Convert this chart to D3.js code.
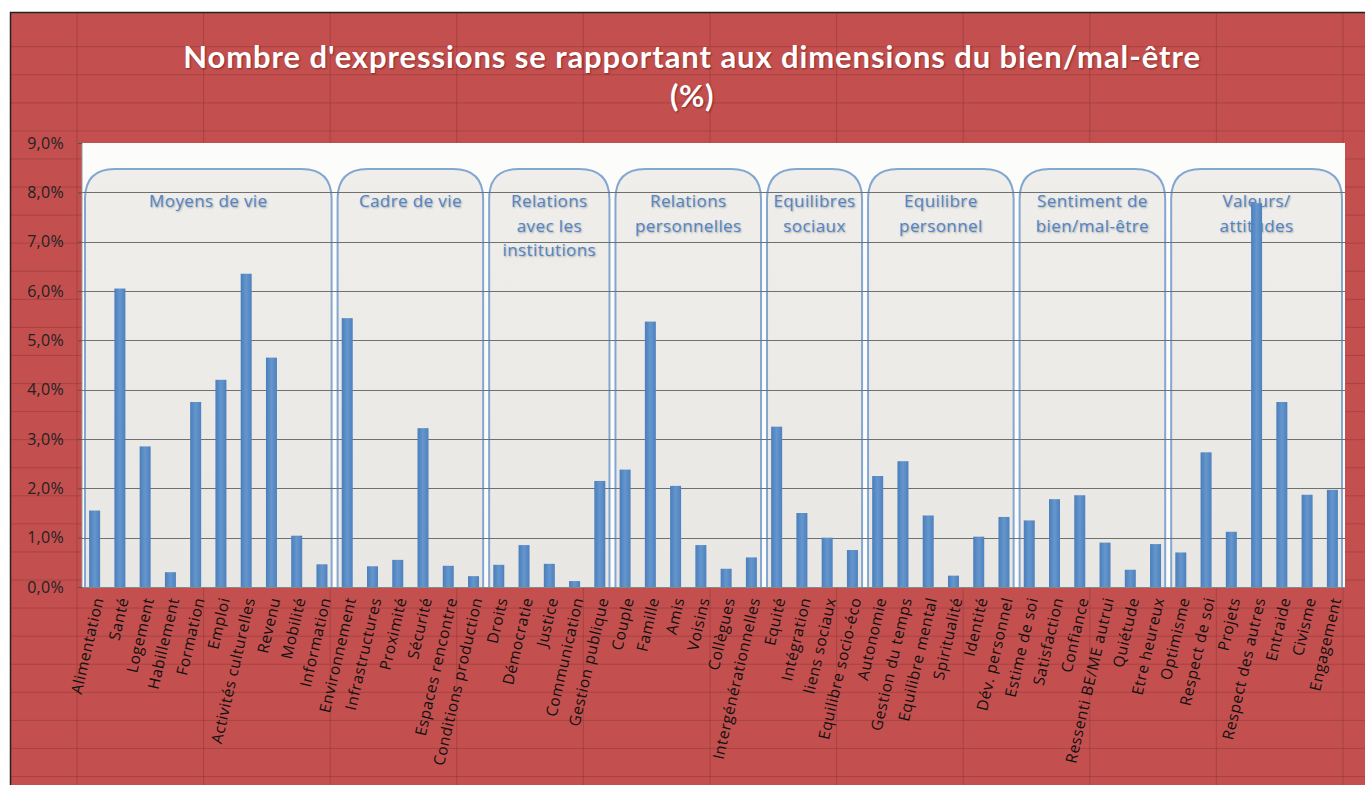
<!DOCTYPE html>
<html>
<head>
<meta charset="utf-8">
<style>
  body { margin: 0; background: #fff; }
  svg { display: block; }
</style>
</head>
<body>
<svg width="1365" height="785"></svg>
<script src="https://cdn.jsdelivr.net/npm/d3@7"></script>
<script>
var categories = ["Alimentation", "Santé", "Logement", "Habillement", "Formation", "Emploi",
  "Activités culturelles", "Revenu", "Mobilité", "Information",
  "Environnement", "Infrastructures", "Proximité", "Sécurité", "Espaces rencontre", "Conditions production",
  "Droits", "Démocratie", "Justice", "Communication", "Gestion publique",
  "Couple", "Famille", "Amis", "Voisins", "Collègues", "Intergénérationnelles",
  "Equité", "Intégration", "liens sociaux", "Equilibre socio-éco",
  "Autonomie", "Gestion du temps", "Equilibre mental", "Spiritualité", "Identité", "Dév. personnel",
  "Estime de soi", "Satisfaction", "Confiance", "Ressenti BE/ME autrui", "Quiétude", "Etre heureux",
  "Optimisme", "Respect de soi", "Projets", "Respect des autres", "Entraide", "Civisme", "Engagement"];

var values = [1.55, 6.05, 2.85, 0.3, 3.75, 4.2, 6.35, 4.65, 1.04, 0.46,
  5.45, 0.42, 0.55, 3.22, 0.43, 0.22,
  0.45, 0.85, 0.47, 0.12, 2.15,
  2.38, 5.38, 2.05, 0.85, 0.37, 0.6,
  3.25, 1.5, 1.0, 0.75,
  2.25, 2.55, 1.45, 0.23, 1.02, 1.42,
  1.35, 1.78, 1.86, 0.9, 0.35, 0.87,
  0.7, 2.73, 1.12, 7.78, 3.75, 1.87, 1.97];

var groupNames = [["Moyens de vie"], ["Cadre de vie"], ["Relations", "avec les", "institutions"],
  ["Relations", "personnelles"], ["Equilibres", "sociaux"], ["Equilibre", "personnel"],
  ["Sentiment de", "bien/mal-être"], ["Valeurs/", "attitudes"]];
var groupSizes = [10, 6, 5, 6, 4, 6, 6, 7];

var yTicks = [0, 1, 2, 3, 4, 5, 6, 7, 8, 9];
var titleLines = ["Nombre d'expressions se rapportant aux dimensions du bien/mal-être", "(%)"];

var W = 1365, H = 785;
var plot = { left: 82, right: 1345, top: 143, bottom: 587 };

var svg = d3.select("svg");
var defs = svg.append("defs");

// spreadsheet-like background
svg.append("rect").attr("x", 10).attr("y", 12).attr("width", W - 10).attr("height", H - 12)
  .attr("fill", "#c3504f");
var sheet = svg.append("g").attr("stroke", "#8f3636").attr("stroke-opacity", 0.5).attr("stroke-width", 1);
for (var ry = 46.7; ry < H; ry += 28.07) {
  sheet.append("line").attr("x1", 10).attr("x2", W).attr("y1", ry).attr("y2", ry);
}
for (var cx = 77; cx < W; cx += 126.6) {
  sheet.append("line").attr("x1", cx).attr("x2", cx).attr("y1", 12).attr("y2", H);
}
svg.append("path").attr("d", "M10.5," + H + "V12.5H" + W).attr("fill", "none")
  .attr("stroke", "#222").attr("stroke-width", 1.5);

// title
svg.append("g").selectAll("text").data(titleLines).enter().append("text")
  .attr("x", 692).attr("y", function(d, i) { return 68 + i * 39; })
  .attr("text-anchor", "middle")
  .attr("font-family", "Lato, 'Open Sans', sans-serif")
  .attr("font-weight", "bold").attr("font-size", 31)
  .attr("letter-spacing", function(d, i) { return i === 0 ? 0.9 : 0.5; })
  .attr("fill", "#fff")
  .style("text-shadow", "1px 1px 2px rgba(80,0,0,0.5)")
  .text(function(d) { return d; });

// scales
var x = d3.scaleBand().domain(categories).range([plot.left, plot.right]);
var y = d3.scaleLinear().domain([0, 9]).range([plot.bottom, plot.top]);

// plot background
svg.append("rect").attr("x", plot.left).attr("y", plot.top)
  .attr("width", plot.right - plot.left).attr("height", plot.bottom - plot.top)
  .attr("fill", "#fcfcfb");

// group boxes
var boxFill = defs.append("linearGradient").attr("id", "boxFill")
  .attr("x1", 0).attr("y1", 0).attr("x2", 0).attr("y2", 1);
boxFill.append("stop").attr("offset", "0%").attr("stop-color", "#efeeeb");
boxFill.append("stop").attr("offset", "100%").attr("stop-color", "#e9e7e3");

var groups = [];
var start = 0;
groupSizes.forEach(function(n, i) {
  groups.push({ name: groupNames[i], first: categories[start], last: categories[start + n - 1] });
  start += n;
});

var boxTop = 169, r = 30;
var gBox = svg.append("g").selectAll("g").data(groups).enter().append("g");
gBox.append("path")
  .attr("d", function(d) {
    var x0 = x(d.first) + 3, x1 = x(d.last) + x.bandwidth() - 3;
    return "M" + x0 + "," + plot.bottom + "V" + (boxTop + r) +
      "Q" + x0 + "," + boxTop + " " + (x0 + r) + "," + boxTop +
      "H" + (x1 - r) + "Q" + x1 + "," + boxTop + " " + x1 + "," + (boxTop + r) +
      "V" + plot.bottom;
  })
  .attr("fill", "url(#boxFill)")
  .attr("stroke", "#84a7d1").attr("stroke-width", 2);
gBox.each(function(d) {
  var cxm = (x(d.first) + x(d.last) + x.bandwidth()) / 2;
  d3.select(this).selectAll("text").data(d.name).enter().append("text")
    .attr("x", cxm).attr("y", function(t, i) { return 207 + i * 24.5; })
    .attr("text-anchor", "middle")
    .attr("font-family", "'Open Sans', sans-serif").attr("font-size", 17)
    .attr("letter-spacing", 0.4)
    .attr("fill", "#5285c6")
    .style("text-shadow", "1px 1px 2px rgba(0,0,0,0.3)")
    .text(function(t) { return t; });
});

// gridlines
svg.append("g").selectAll("line").data(yTicks.slice(0, -1)).enter().append("line")
  .attr("x1", plot.left).attr("x2", plot.right)
  .attr("y1", function(d) { return Math.round(y(d)) + 0.5; })
  .attr("y2", function(d) { return Math.round(y(d)) + 0.5; })
  .attr("stroke", "#707070").attr("stroke-width", 1);

// bars
var barGrad = defs.append("linearGradient").attr("id", "barGrad")
  .attr("x1", 0).attr("y1", 0).attr("x2", 1).attr("y2", 0);
barGrad.append("stop").attr("offset", "0%").attr("stop-color", "#4a7ebb");
barGrad.append("stop").attr("offset", "50%").attr("stop-color", "#6596cd");
barGrad.append("stop").attr("offset", "100%").attr("stop-color", "#4d81be");

var bw = 11;
svg.append("g").selectAll("rect").data(values).enter().append("rect")
  .attr("x", function(d, i) { return x(categories[i]) + (x.bandwidth() - bw) / 2; })
  .attr("y", function(d) { return y(d); })
  .attr("width", bw)
  .attr("height", function(d) { return y(0) - y(d); })
  .attr("fill", "url(#barGrad)");

// plot border left
svg.append("line").attr("x1", plot.left).attr("x2", plot.left)
  .attr("y1", plot.top).attr("y2", plot.bottom).attr("stroke", "#999");

// y axis
var fr = d3.formatLocale({ decimal: ",", thousands: " ", grouping: [3], currency: ["", "€"] });
var yAxis = d3.axisLeft(y).tickValues(yTicks).tickSize(4).tickPadding(14)
  .tickFormat(function(d) { return fr.format(".1f")(d) + "%"; });
var gy = svg.append("g").attr("transform", "translate(" + plot.left + ",0)").call(yAxis);
gy.select(".domain").remove();
gy.selectAll("line").attr("stroke", "#555");
gy.selectAll("text").attr("font-family", "'Open Sans', sans-serif").attr("font-size", 16)
  .attr("letter-spacing", 0.3).attr("fill", "#222");

// x axis
var xAxis = d3.axisBottom(x).tickSize(0).tickPadding(0);
var gx = svg.append("g").attr("transform", "translate(0," + plot.bottom + ")").call(xAxis);
gx.select(".domain").attr("stroke", "#888");
gx.selectAll("text")
  .attr("font-family", "'Open Sans', sans-serif").attr("font-size", 15.5).attr("fill", "#111")
  .attr("letter-spacing", 0.5)
  .attr("text-anchor", "end")
  .attr("dy", 0)
  .attr("transform", "translate(9,12) rotate(-77)");
</script>
</body>
</html>
